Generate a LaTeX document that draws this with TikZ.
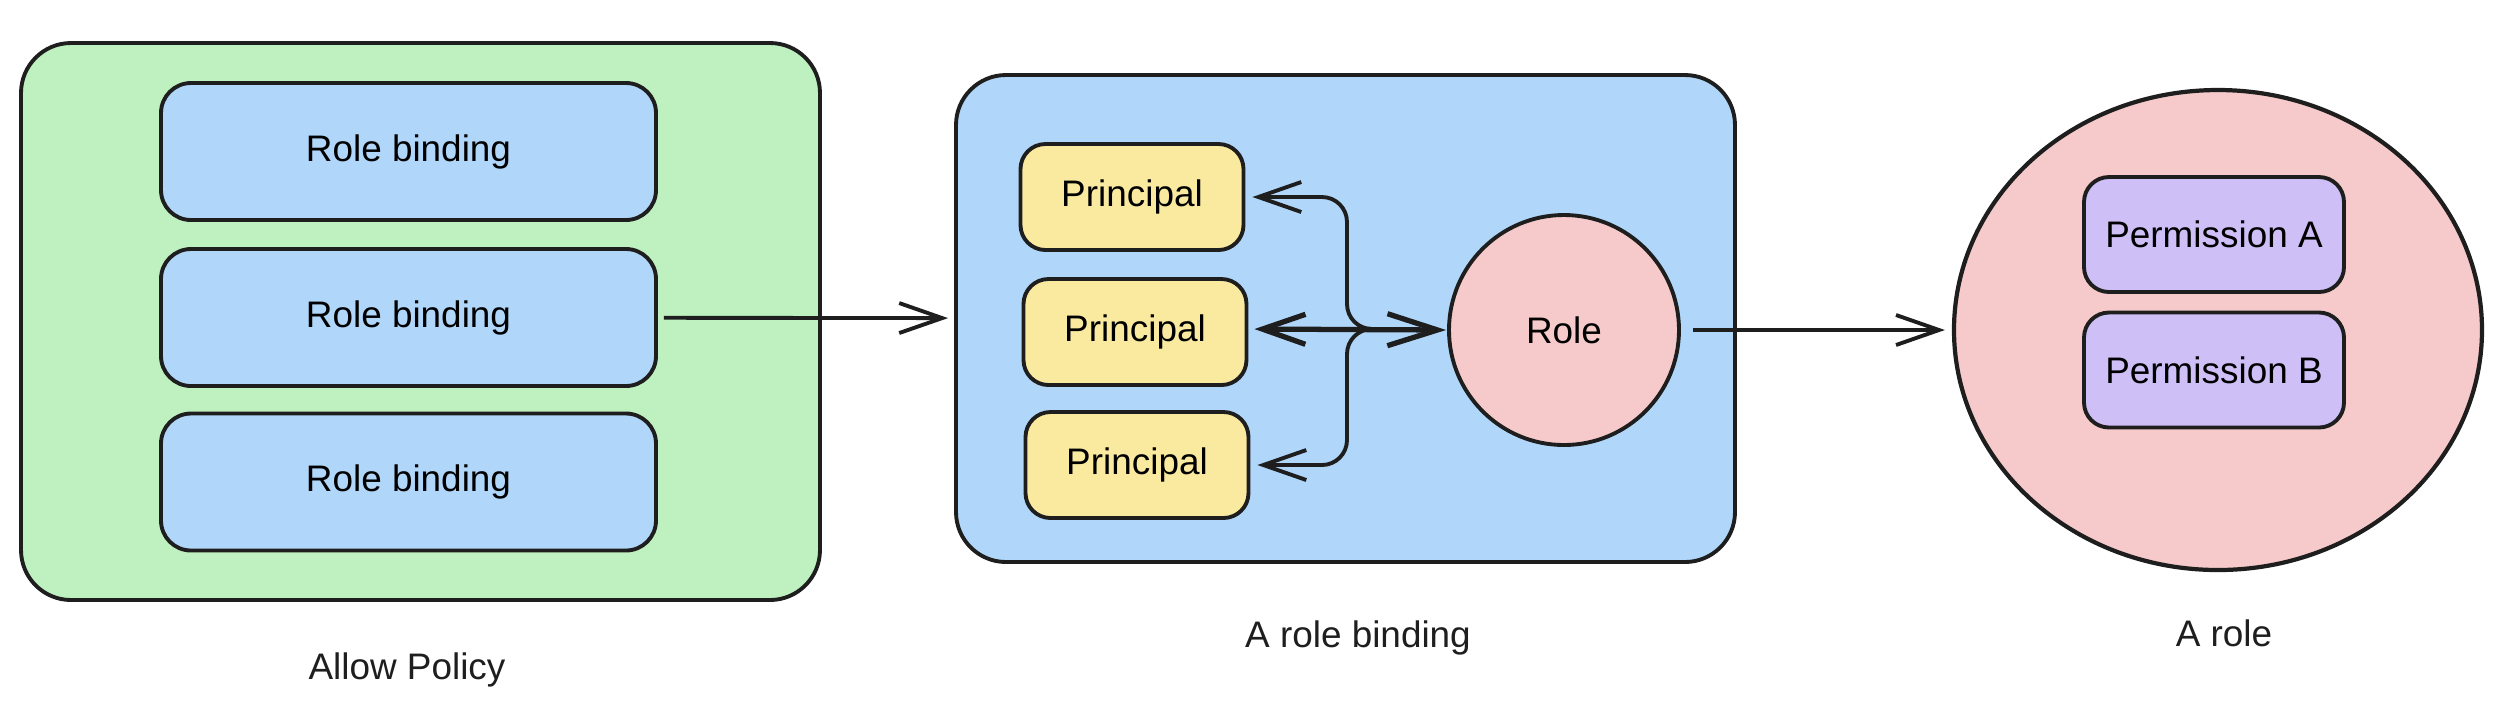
\documentclass[tikz,border=0pt]{standalone}
\usepackage{fontspec}
\setmainfont{Liberation Sans}
\usetikzlibrary{arrows.meta,shapes.geometric}

\definecolor{inkblack}{RGB}{30,30,30}
\definecolor{policygreen}{RGB}{190,240,192}
\definecolor{bindblue}{RGB}{176,214,249}
\definecolor{rolepink}{RGB}{246,202,202}
\definecolor{principalyellow}{RGB}{250,234,160}
\definecolor{permpurple}{RGB}{206,192,246}

\begin{document}
\begin{tikzpicture}[
    x=0.1mm, y=-0.1mm,
    font=\fontsize{10.5}{12}\selectfont,
    container/.style={rectangle, rounded corners=5mm, draw=inkblack, line width=1.1pt, inner sep=0pt},
    binding/.style={rectangle, rounded corners=3mm, draw=inkblack, line width=1.1pt, fill=bindblue, minimum width=49.5mm, minimum height=13.7mm},
    principal/.style={rectangle, rounded corners=2.5mm, draw=inkblack, line width=1.1pt, fill=principalyellow, minimum width=22.3mm, minimum height=10.6mm},
    permission/.style={rectangle, rounded corners=2.5mm, draw=inkblack, line width=1.1pt, fill=permpurple, minimum width=26mm, minimum height=11.5mm},
    caption/.style={text=inkblack},
    arrow/.style={draw=inkblack, line width=1.1pt, -{Straight Barb[length=4.3mm, width=3mm]}},
    biarrow/.style={draw=inkblack, line width=1.5pt, {Straight Barb[length=4.3mm, width=3mm]}-{Straight Barb[length=5mm, width=3.2mm]}}
]
\useasboundingbox (0,0) rectangle (2502,708);

% --- Nodes ---
% Left (Allow policy)
\node (policy) at (420.5, 321.5) [container, fill=policygreen, minimum width=79.9mm, minimum height=55.7mm] {};
\node (rb1) at (408.5, 151.5) [binding] {Role binding};
\node (rb2) at (408.5, 317.5) [binding] {Role binding};
\node (rb3) at (408.5, 482) [binding] {Role binding};

% Middle (one role binding)
\node (bindbox) at (1345.5, 318.5) [container, fill=bindblue, minimum width=77.9mm, minimum height=48.7mm] {};
\node (p1) at (1132, 197) [principal] {Principal};
\node (p2) at (1135, 332) [principal] {Principal};
\node (p3) at (1137, 465) [principal] {Principal};
\node (role) at (1564, 330) [circle, draw=inkblack, line width=1.1pt, fill=rolepink, minimum size=23mm] {Role};

% Right (a role)
\node (bigrole) at (2218, 330) [ellipse, draw=inkblack, line width=1.2pt, fill=rolepink, minimum width=52.8mm, minimum height=48mm] {};
\node (permA) at (2214, 234.5) [permission] {Permission A};
\node (permB) at (2214, 370) [permission] {Permission B};

% Captions
\node (capPolicy) at (407, 670) [caption] {Allow Policy};
\node (capBinding) at (1358, 638) [caption] {A role binding};
\node (capRole) at (2224, 633) [caption] {A role};

% --- Edges ---
\coordinate (fork) at (1372, 329);
\draw [arrow, shorten <=0.6mm, shorten >=0.6mm] (rb2) -- (bindbox);
\draw [biarrow, shorten <=0.6mm, shorten >=0.1mm] (p2.east |- fork) -- (role.west);
\draw [arrow, rounded corners=2.5mm, shorten >=0.7mm] (fork) -- ++(-25, 0) |- (p1.east);
\draw [arrow, rounded corners=2.5mm, shorten >=0.7mm] (fork) -- ++(-25, 0) |- (p3.east);
\draw [arrow, shorten <=1.2mm, shorten >=0.7mm] (role) -- (bigrole);

\end{tikzpicture}
\end{document}
